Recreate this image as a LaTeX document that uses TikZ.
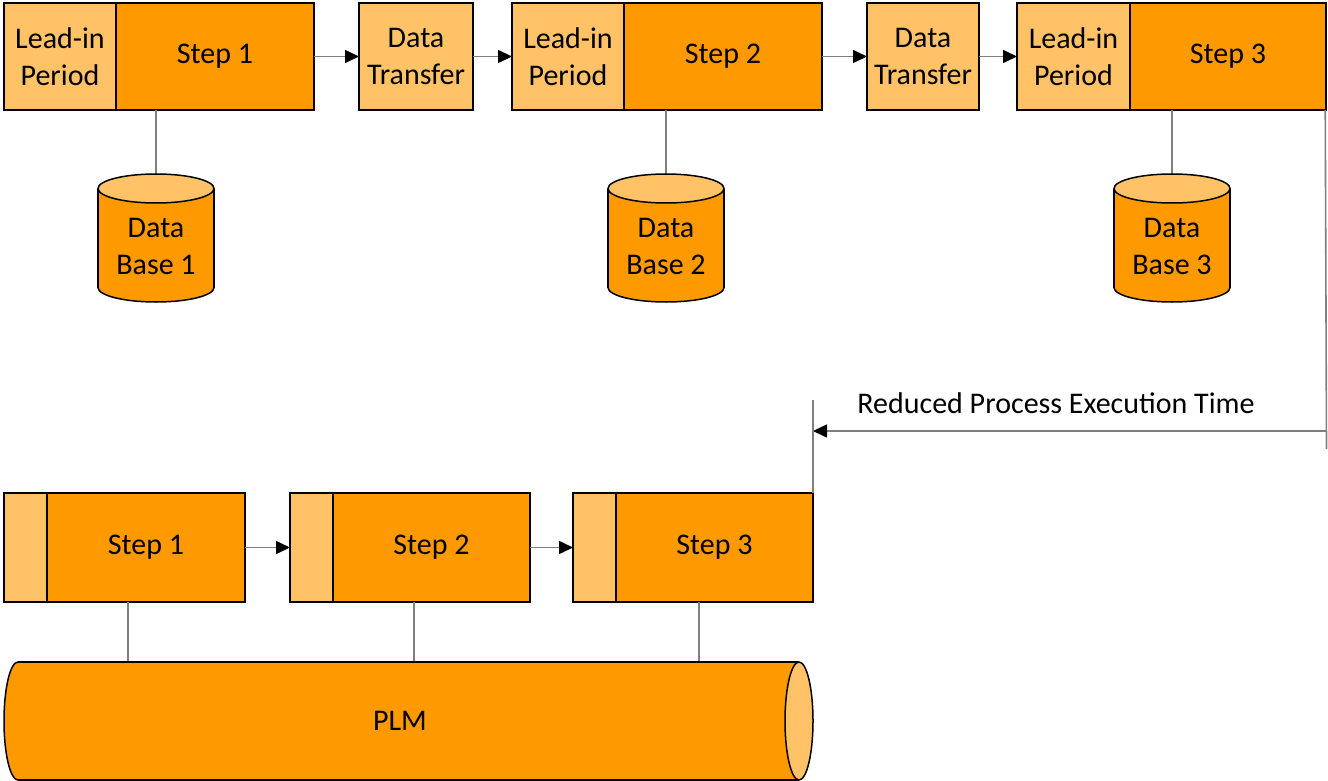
\documentclass[tikz,border=0pt]{standalone}
\usepackage{fontspec}
\setmainfont{Carlito}
\usetikzlibrary{arrows.meta}
\definecolor{darkor}{HTML}{FF9900}
\definecolor{lightor}{HTML}{FFC266}
\definecolor{conncol}{HTML}{7F7F7F}
\newcommand\mycylv[3]{%
  \filldraw[fill=darkor,draw=black,line width=1.5pt] (#1,{#3-14.5}) ellipse [x radius=58, y radius=14.5];
  \fill[darkor] ({#1-58},{#2+14.5}) rectangle ({#1+58},{#3-14.5});
  \draw[black,line width=1.5pt] ({#1-58},{#2+14.5}) -- ({#1-58},{#3-14.5});
  \draw[black,line width=1.5pt] ({#1+58},{#2+14.5}) -- ({#1+58},{#3-14.5});
  \filldraw[fill=lightor,draw=black,line width=1.5pt] (#1,{#2+14.5}) ellipse [x radius=58, y radius=14.5];
}
\begin{document}
\begin{tikzpicture}[x=1pt,y=-1pt,
  every node/.style={font=\fontsize{30}{37}\selectfont, align=center, inner sep=0pt, outer sep=0pt},
  lightbox/.style={draw=black, line width=1.5pt, fill=lightor},
  darkbox/.style={draw=black, line width=1.5pt, fill=darkor},
  conn/.style={draw=conncol, line width=1.6pt},
  arr/.style={conn, -{Triangle[length=14pt,width=13pt,fill=black,color=black]}}
]
\useasboundingbox (0,0) rectangle (1328,781);
% ---- top row ----
\node[lightbox, minimum width=112pt, minimum height=107pt, anchor=north west] (l1) at (4,3) {Lead-in\\Period};
\node[darkbox, minimum width=198pt, minimum height=107pt, anchor=west] (s1) at (l1.east) {Step 1};
\node[lightbox, minimum width=114pt, minimum height=107pt, anchor=north west] (dt1) at (359,3) {Data\\Transfer};
\node[lightbox, minimum width=112pt, minimum height=107pt, anchor=north west] (l2) at (512,3) {Lead-in\\Period};
\node[darkbox, minimum width=198pt, minimum height=107pt, anchor=west] (s2) at (l2.east) {Step 2};
\node[lightbox, minimum width=112pt, minimum height=107pt, anchor=north west] (dt2) at (867,3) {Data\\Transfer};
\node[lightbox, minimum width=113pt, minimum height=107pt, anchor=north west] (l3) at (1017,3) {Lead-in\\Period};
\node[darkbox, minimum width=196pt, minimum height=107pt, anchor=west] (s3) at (l3.east) {Step 3};
\draw[arr] (s1.east) -- (dt1.west);
\draw[arr] (dt1.east) -- (l2.west);
\draw[arr] (s2.east) -- (dt2.west);
\draw[arr] (dt2.east) -- (l3.west);
% ---- databases ----
\coordinate (db1top) at (156,174);
\coordinate (db2top) at (666,174);
\coordinate (db3top) at (1172,174);
\draw[conn] (db1top |- s1.south) -- (db1top);
\draw[conn] (db2top |- s2.south) -- (db2top);
\draw[conn] (db3top |- s3.south) -- (db3top);
\mycylv{156}{174}{302}
\mycylv{666}{174}{302}
\mycylv{1172}{174}{302}
\node (db1) at (156,246) {Data\\Base 1};
\node (db2) at (666,246) {Data\\Base 2};
\node (db3) at (1172,246) {Data\\Base 3};
% ---- reduced time ----
\coordinate (rb) at (1326.5,449);
\coordinate (ra) at (1326.5,431);
\coordinate (la) at (813,431);
\coordinate (lt) at (813,400);
\draw[conn] (s3.south east) ++(-0.75,0) -- (rb);
\draw[arr] (ra) -- (la);
\node (lbl) at (1056,403) {Reduced Process Execution Time};
% ---- bottom row ----
\node[lightbox, minimum width=43pt, minimum height=109pt, anchor=north west] (lb1) at (4,493) {};
\node[darkbox, minimum width=198pt, minimum height=109pt, anchor=west] (bs1) at (lb1.east) {Step 1};
\node[lightbox, minimum width=43pt, minimum height=109pt, anchor=north west] (lb2) at (290,493) {};
\node[darkbox, minimum width=197pt, minimum height=109pt, anchor=west] (bs2) at (lb2.east) {Step 2};
\node[lightbox, minimum width=43pt, minimum height=109pt, anchor=north west] (lb3) at (573,493) {};
\node[darkbox, minimum width=197pt, minimum height=109pt, anchor=west] (bs3) at (lb3.east) {Step 3};
\draw[conn] (lt) -- (bs3.north east);
\draw[arr] (bs1.east) -- (lb2.west);
\draw[arr] (bs2.east) -- (lb3.west);
% ---- PLM ----
\coordinate (p1) at (128,662);
\coordinate (p2) at (414,662);
\coordinate (p3) at (699,662);
\draw[conn] (p1 |- bs1.south) -- (p1);
\draw[conn] (p2 |- bs2.south) -- (p2);
\draw[conn] (p3 |- bs3.south) -- (p3);
\filldraw[fill=darkor,draw=black,line width=1.5pt] (18,721) ellipse [x radius=14, y radius=59];
\fill[darkor] (18,662) rectangle (799,780);
\draw[black,line width=1.5pt] (18,662) -- (799,662);
\draw[black,line width=1.5pt] (18,780) -- (799,780);
\filldraw[fill=lightor,draw=black,line width=1.5pt] (799,721) ellipse [x radius=14, y radius=59];
\node (plm) at (400,721) {PLM};
\end{tikzpicture}
\end{document}
